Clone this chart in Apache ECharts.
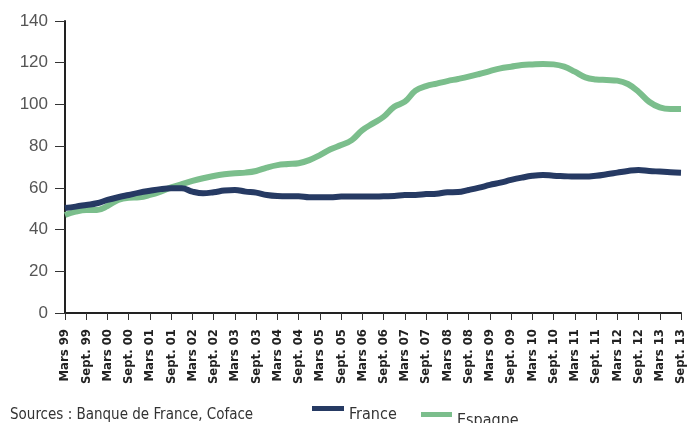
<!DOCTYPE html>
<html>
<head>
<meta charset="utf-8">
<script src="https://cdn.jsdelivr.net/npm/echarts@6/dist/echarts.min.js"></script>
<style>
  html, body { margin: 0; padding: 0; background: #fff; }
  #chart { width: 691px; height: 423px; }
</style>
</head>
<body>
<div id="chart"></div>
<script>
// Trimestres, de mars 1999 à septembre 2013 (seuls mars et sept. sont affichés)
const quarters = [];
const years = ['99', '00', '01', '02', '03', '04', '05', '06', '07', '08', '09', '10', '11', '12', '13'];
const monthNames = ['Mars', 'Juin', 'Sept.', 'Déc.'];

const france = [
    50.3, 51.0, 51.8, 52.6, 54.2, 55.5, 56.6, 57.7, 58.6, 59.4,
    59.8, 59.8, 58.2, 57.4, 57.9, 58.7, 59.0, 58.2, 57.7, 56.6,
    56.1, 56.0, 56.0, 55.5, 55.5, 55.5, 55.8, 55.8, 55.8, 55.8,
    56.0, 56.1, 56.6, 56.6, 57.0, 57.2, 57.9, 58.0, 59.0, 60.1,
    61.4, 62.5, 63.8, 64.9, 65.8, 66.2, 65.8, 65.6, 65.4, 65.4,
    65.8, 66.5, 67.3, 68.1, 68.6, 68.1, 67.8, 67.5, 67.3
];

const espagne = [
    47.0, 48.6, 49.4, 49.4, 51.3, 54.2, 55.3, 55.5, 56.6, 58.2,
    60.2, 61.8, 63.3, 64.6, 65.7, 66.5, 67.0, 67.3, 68.1, 69.7,
    70.9, 71.4, 71.8, 73.3, 75.7, 78.5, 80.5, 82.9, 87.7, 90.9,
    94.1, 98.9, 101.3, 106.6, 108.8, 110.0, 111.2, 112.2, 113.3, 114.6,
    116.0, 117.3, 118.1, 118.9, 119.2, 119.4, 119.2, 118.1, 115.7, 113.0,
    112.0, 111.7, 111.4, 109.8, 106.1, 101.3, 98.6, 97.8, 97.8
];

const yTicks = [0, 20, 40, 60, 80, 100, 120, 140];

years.forEach(y => monthNames.forEach(m => quarters.push(m + ' ' + y)));
quarters.length = france.length; // s'arrête à Sept. 13

const FONT = '"DejaVu Sans Condensed", "Liberation Sans", Arial, sans-serif';
const FONT_Y = '"Liberation Sans", Arial, sans-serif';

// légende : le texte est un peu plus bas que le trait
const legendText = {
    color: '#333', fontFamily: FONT, fontSize: 16,
    rich: { t: { color: '#333', fontFamily: FONT, fontSize: 16, padding: [13, 0, 0, 0] } }
};

const chart = echarts.init(document.getElementById('chart'));
chart.setOption({
    animation: false,
    grid: { left: 65, right: 10, top: 21, bottom: 110 },
    xAxis: {
        type: 'category',
        data: quarters,
        boundaryGap: false,
        axisLine: { lineStyle: { color: '#222', width: 2 } },
        axisTick: { interval: 1, length: 7, lineStyle: { color: '#333', width: 1 } },
        axisLabel: {
            interval: 1,
            rotate: 90,
            margin: 16,
            color: '#222',
            fontFamily: FONT,
            fontWeight: 'bold',
            fontSize: 13
        }
    },
    yAxis: {
        type: 'value',
        min: yTicks[0],
        max: yTicks[yTicks.length - 1],
        interval: 20,
        splitLine: { show: false },
        axisLine: { show: true, lineStyle: { color: '#222', width: 2 } },
        axisTick: { show: true, length: 10, lineStyle: { color: '#333', width: 1 } },
        axisLabel: { margin: 17, color: '#555', fontFamily: FONT_Y, fontSize: 17 }
    },
    legend: [
        {
            data: ['France'],
            left: 312, top: 406, padding: 0,
            itemWidth: 32, itemHeight: 5,
            icon: 'rect',
            formatter: '{t|{name}}',
            textStyle: legendText
        },
        {
            data: ['Espagne'],
            left: 421, top: 412, padding: 0,
            itemWidth: 31, itemHeight: 5,
            icon: 'rect',
            formatter: '{t|{name}}',
            textStyle: legendText
        }
    ],
    graphic: [{
        type: 'text',
        left: 10, top: 408,
        style: { text: 'Sources : Banque de France, Coface', fill: '#333', font: '15px ' + FONT }
    }],
    series: [
        {
            name: 'France',
            type: 'line',
            data: france,
            smooth: 0.4,
            symbol: 'none',
            z: 3,
            itemStyle: { color: '#263a63' },
            lineStyle: { color: '#263a63', width: 6 }
        },
        {
            name: 'Espagne',
            type: 'line',
            data: espagne,
            smooth: 0.4,
            symbol: 'none',
            z: 2,
            itemStyle: { color: '#7bbe8c' },
            lineStyle: { color: '#7bbe8c', width: 6 }
        }
    ]
});
</script>
</body>
</html>
